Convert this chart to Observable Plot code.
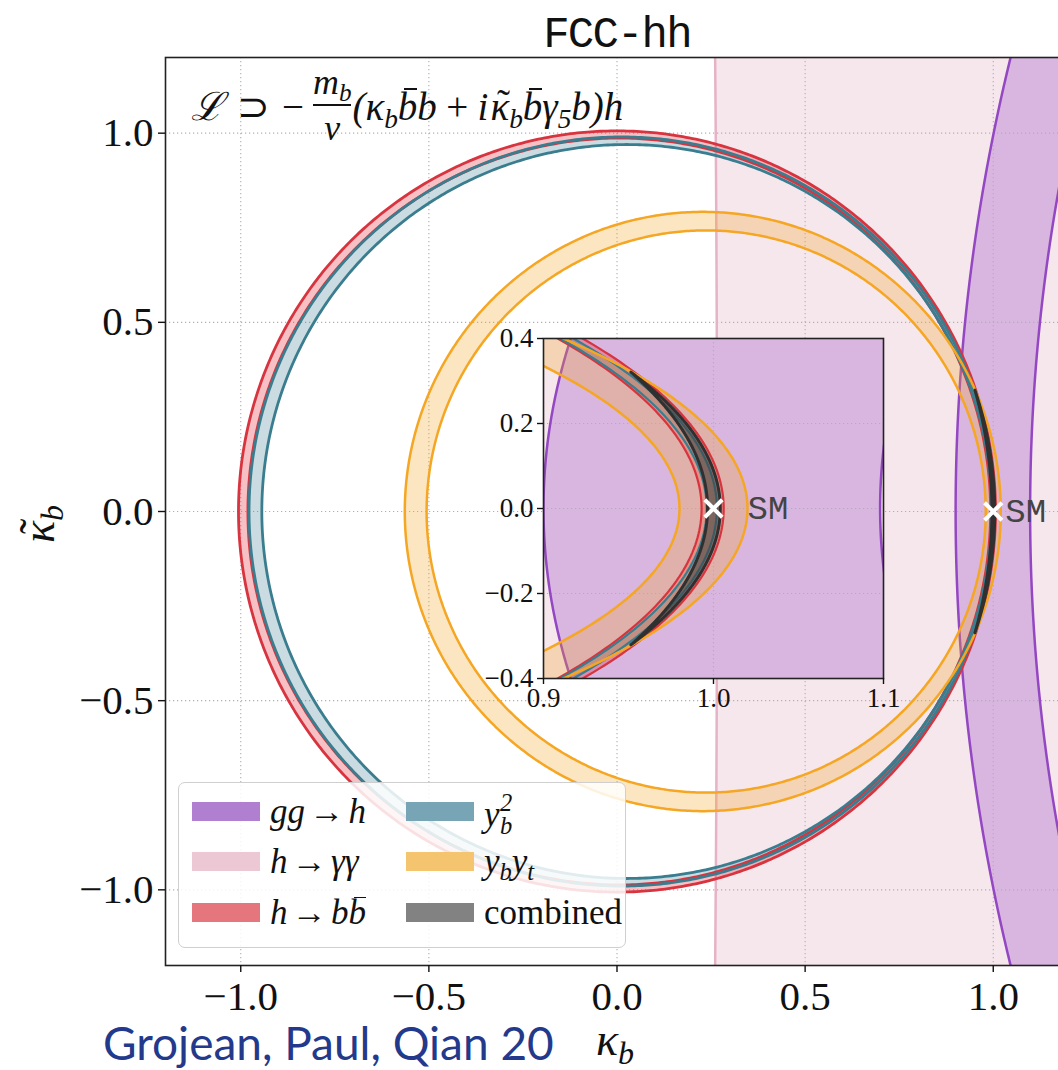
<!DOCTYPE html>
<html>
<head>
<meta charset="utf-8">
<script src="https://cdn.jsdelivr.net/npm/d3@7"></script>
<script src="https://cdn.jsdelivr.net/npm/@observablehq/plot@0.6"></script>
<style>
  html, body { margin: 0; padding: 0; background: #fff; width: 1058px; height: 1070px; overflow: hidden; }
  #stage { position: relative; width: 1058px; height: 1070px; overflow: hidden; }
  .abs { position: absolute; }
  #lag { position: absolute; left: 191px; top: 70px; height: 72px; display: flex; align-items: center;
         font-family: "Liberation Serif", serif; font-style: italic; font-size: 39px; color: #111; white-space: nowrap; line-height: 1; }
  .rm { font-style: normal; }
  #lag sub { font-size: 0.7em; vertical-align: -0.28em; line-height: 0; }
  .op { font-style: normal; margin: 0 0.24em; }
  .frac { display: inline-flex; flex-direction: column; align-items: center; margin: 0 1px; line-height: 1; font-size: 0.92em; }
  .frac .bar { width: 100%; height: 1.6px; background: #111; margin: 3px 0 5px; }
  .tl { position: relative; display: inline-block; line-height: 1; }
  .tld { position: absolute; left: 0.17em; top: -0.06em; font-style: normal; line-height: 1; }
  .bb { position: relative; display: inline-block; line-height: 1; }
  .mac { position: absolute; left: 0.16em; width: 0.34em; top: 0.05em; height: 1.6px; background: #111; }
  #legend { position: absolute; left: 178px; top: 782px; width: 446px; height: 164px;
            border: 1.6px solid #cfcfcf; border-radius: 7px; background: rgba(255,255,255,0.85); }
  .lrow { position: absolute; height: 19px; display: flex; align-items: center; }
  .patch { width: 68px; height: 19px; flex: none; }
  .ltxt { margin-left: 10px; font-family: "Liberation Serif", serif; font-size: 35px; font-style: italic; line-height: 1; white-space: nowrap; color: #111; }
  .ltxt sub { font-size: 0.7em; vertical-align: -0.3em; line-height: 0; }
  .arr { font-style: normal; margin: 0 0.12em; }
  .ss { position: relative; display: inline-block; width: 0.42em; height: 1em; vertical-align: baseline; }
  .ss span { position: absolute; left: 0.02em; font-size: 0.7em; line-height: 1; }
</style>
</head>
<body>
<div id="stage"></div>
<script>
// Constraint bands in the (κ_b, κ̃_b) plane. Each band is the strip between two
// boundary circles centred on the κ̃_b = 0 axis (centre κ_b, radius).
const bandNames   = ["gg → h", "h → γγ", "h → bb̄", "y_b²", "y_b y_t"];
const edgeACx     = [5.9,   -140,    0.000, 0.012, 0.228];
const edgeAR      = [5.0,    140.266, 1.006, 0.990, 0.792];
const edgeBCx     = [5.9,   -140,    0.006, 0.026, 0.237];
const edgeBR      = [4.802,  142,     0.987, 0.970, 0.743];
const edgeColor   = ["#9447c2", "#e6b2c6", "#d8343f", "#3a7d8f", "#f5a623"];
const fillColor   = ["#9447c2", "#f6e7ed", "#e0303c", "#3a7f93", "#f5a623"];
const fillOpacity = [0.3, 1, 0.3, 0.27, 0.28];

// Combined region: lens inside the first circle and outside the second one
const combinedCx = [0, -0.1663];
const combinedR  = [1.004, 1.1628];

// Standard Model point
const smKb = [1.0];
const smKbt = [0.0];
const smLabel = ["SM"];

// Tick values
const mainTicks   = [-1, -0.5, 0, 0.5, 1];
const insetXTicks = [0.9, 1.0, 1.1];
const insetYTicks = [-0.4, -0.2, 0, 0.2, 0.4];

// Legend
const bbar = "<span class='bb'>b<span class='mac'></span></span>";
const legendLabels = [
  "gg<span class='arr'>→</span>h",
  "h<span class='arr'>→</span>γγ",
  "h<span class='arr'>→</span>b" + bbar,
  "y<span class='ss'><span style='top:0px'>2</span><span style='top:23px'>b</span></span>",
  "y<sub>b</sub>y<sub>t</sub>",
  "<span class='rm'>combined</span>"
];
const legendColors = ["#b07fd0", "#ecc8d4", "#e6767e", "#77a5b5", "#f5c46e", "#828282"];

const sm = smKb.map((kb, i) => ({kb, kbt: smKbt[i], label: smLabel[i]}));

// Points along a circle between two angles
function arc(cx, r, a0, a1, n = 720) {
  return d3.range(n + 1).map(i => {
    const a = a0 + (a1 - a0) * i / n;
    return {x: cx + r * Math.cos(a), y: r * Math.sin(a)};
  });
}
// Angular span of a boundary circle that can reach the plotting window
function span(cx, r) {
  if (r <= 1.5) return [0, 2 * Math.PI];
  const h = Math.asin(1.5 / r), s = cx > 0 ? Math.PI : 0;
  return [s - h, s + h];
}
// Closed outline of band i: first edge forward, second edge backward
function bandPolygon(i) {
  const [a0, a1] = span(edgeACx[i], edgeAR[i]);
  const [b0, b1] = span(edgeBCx[i], edgeBR[i]);
  return [...arc(edgeACx[i], edgeAR[i], a0, a1), ...arc(edgeBCx[i], edgeBR[i], b1, b0)];
}
function lensPolygon() {
  const [c1, c2] = combinedCx, [r1, r2] = combinedR;
  const xi = (r1 * r1 - r2 * r2 - c1 * c1 + c2 * c2) / (2 * (c2 - c1));
  const yi = Math.sqrt(r1 * r1 - (xi - c1) ** 2);
  const t1 = Math.atan2(yi, xi - c1), t2 = Math.atan2(yi, xi - c2);
  return [...arc(c1, r1, -t1, t1, 300), ...arc(c2, r2, t2, -t2, 300)];
}

function chartMarks({edgeWidth, ringWidth, comboWidth, comboOpacity, labelDx, grid}) {
  const fill = i => Plot.line(bandPolygon(i), {x: "x", y: "y", fill: fillColor[i], fillOpacity: fillOpacity[i], stroke: "none", clip: true});
  const edges = (i, w) => [[edgeACx[i], edgeAR[i]], [edgeBCx[i], edgeBR[i]]].map(([cx, r]) =>
    Plot.line(arc(cx, r, ...span(cx, r)), {x: "x", y: "y", stroke: edgeColor[i], strokeWidth: w, clip: true}));
  return [
    fill(1), fill(0),
    ...grid,
    ...edges(1, edgeWidth), ...edges(0, edgeWidth),
    fill(2), fill(3), fill(4),
    ...edges(2, ringWidth), ...edges(3, ringWidth), ...edges(4, edgeWidth),
    Plot.line(lensPolygon(), {x: "x", y: "y", fill: "#3a3a3a", fillOpacity: comboOpacity, stroke: "#303030", strokeWidth: comboWidth, clip: true}),
    Plot.dot(sm, {x: "kb", y: "kbt", symbol: "times", r: 8, stroke: "white", strokeWidth: 4}),
    Plot.text(sm, {x: "kb", y: "kbt", text: "label", dx: labelDx, textAnchor: "start", fontFamily: "Liberation Mono", fontSize: 34, fill: "#444"})
  ];
}

const gridStyle = {stroke: "#b0b0b0", strokeOpacity: 1, strokeWidth: 1.1, strokeDasharray: "1.2,2.8"};
const fmt = d3.format(".1f");
const stage = document.getElementById("stage");

// Main panel
const main = Plot.plot({
  width: 1068, height: 1070,
  marginLeft: 165, marginRight: 0, marginTop: 57, marginBottom: 105,
  x: {domain: [-1.2, 1.2]},
  y: {domain: [-1.2, 1.2]},
  style: {background: "transparent", maxWidth: "none", fontFamily: "'Liberation Serif', serif", color: "#111"},
  marks: [
    ...chartMarks({edgeWidth: 2.5, ringWidth: 2.8, comboWidth: 3, comboOpacity: 0.6, labelDx: 12,
      grid: [Plot.gridX(mainTicks, gridStyle), Plot.gridY(mainTicks, gridStyle)]}),
    Plot.frame({stroke: "#222", strokeWidth: 1.6}),
    Plot.axisX(mainTicks, {tickFormat: fmt, tickSize: 7, tickPadding: 8, fontSize: 41, label: null, strokeWidth: 1.4}),
    Plot.axisY(mainTicks, {tickFormat: fmt, tickSize: 7, tickPadding: 5, fontSize: 41, label: null, strokeWidth: 1.4})
  ]
});
main.classList.add("abs");
main.style.left = "0px"; main.style.top = "0px";
stage.appendChild(main);

// Zoomed inset around the SM point
const inset = Plot.plot({
  width: 420, height: 400,
  marginLeft: 60, marginRight: 20, marginTop: 20, marginBottom: 40,
  x: {domain: [0.9, 1.1]},
  y: {domain: [-0.4, 0.4]},
  style: {background: "transparent", maxWidth: "none", fontFamily: "'Liberation Serif', serif", color: "#111", overflow: "visible"},
  marks: [
    ...chartMarks({edgeWidth: 2.5, ringWidth: 2.2, comboWidth: 3, comboOpacity: 0.5, labelDx: 34,
      grid: [Plot.gridX(insetXTicks, gridStyle), Plot.gridY(insetYTicks, gridStyle)]}),
    Plot.frame({stroke: "#222", strokeWidth: 1.6}),
    Plot.axisX(insetXTicks, {tickFormat: fmt, tickSize: 6, tickPadding: 3, fontSize: 27, label: null, strokeWidth: 1.4}),
    Plot.axisY(insetYTicks, {tickFormat: fmt, tickSize: 6, tickPadding: 4, fontSize: 27, label: null, strokeWidth: 1.4})
  ]
});
inset.classList.add("abs");
inset.style.left = "483px"; inset.style.top = "318px";
stage.appendChild(inset);

// Lagrangian annotation
const lag = document.createElement("div");
lag.id = "lag";
lag.innerHTML =
  "<span>ℒ</span><span class='rm' style='margin:0 12px 0 14px'>⊃</span><span class='rm' style='margin-right:8px'>−</span>" +
  "<span class='frac'><span>m<sub>b</sub></span><span class='bar'></span><span>v</span></span>" +
  "<span>(κ<sub>b</sub>" + bbar + "b<span class='op'>+</span>i<span style='margin-left:2px'></span><span class='tl'>κ<span class='tld'>˜</span></span><sub>b</sub>" +
  bbar + "γ<sub>5</sub>b)h</span>";
stage.appendChild(lag);

// Legend
const legend = document.createElement("div");
legend.id = "legend";
const rowTops = [19, 69, 120];
const colLefts = [13, 227];
legendLabels.forEach((lab, i) => {
  const col = Math.floor(i / 3), row = i % 3;
  const r = document.createElement("div");
  r.className = "lrow";
  r.style.left = colLefts[col] + "px";
  r.style.top = rowTops[row] + "px";
  r.innerHTML = `<div class="patch" style="background:${legendColors[i]}"></div><div class="ltxt">${lab}</div>`;
  legend.appendChild(r);
});
stage.appendChild(legend);

// Title, axis labels and credit line
const over = d3.create("svg").attr("width", 1058).attr("height", 1070)
  .style("position", "absolute").style("left", "0px").style("top", "0px").style("pointer-events", "none");
over.append("text").attr("x", 617).attr("y", 47).attr("text-anchor", "middle")
  .attr("font-family", "Liberation Mono").attr("font-size", 44).attr("letter-spacing", -1.8).attr("fill", "#111").text("FCC-hh");
const xl = over.append("text").attr("x", 596).attr("y", 1055).attr("font-family", "Liberation Serif")
  .attr("font-style", "italic").attr("font-size", 46).attr("fill", "#111");
xl.append("tspan").text("κ");
xl.append("tspan").attr("font-size", 32).attr("dy", 9).text("b");
const yg = over.append("g").attr("transform", "translate(54,543) rotate(-90)")
  .attr("font-family", "Liberation Serif").attr("font-style", "italic").attr("font-size", 46).attr("fill", "#111");
const yl = yg.append("text");
yl.append("tspan").text("κ");
yl.append("tspan").attr("font-size", 32).attr("dy", 9).text("b");
yg.append("text").attr("x", 9).attr("y", -3).attr("font-style", "normal").text("˜");
over.append("text").attr("x", 103).attr("y", 1060).attr("font-family", "Lato").attr("font-size", 46)
  .attr("fill", "#233a8c").text("Grojean, Paul, Qian 20");
stage.appendChild(over.node());
</script>
</body>
</html>
